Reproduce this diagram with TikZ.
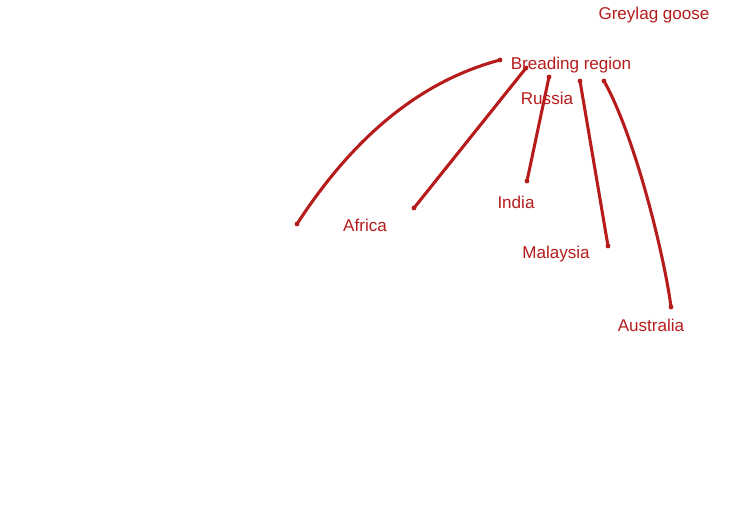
\documentclass[tikz,border=0pt]{standalone}
\usepackage{fontspec}
\setmainfont{Liberation Sans}
\definecolor{gred}{RGB}{183,28,28}
\begin{document}
\begin{tikzpicture}[x=0.75pt,y=-0.75pt,
  lbl/.style={text=gred,font=\fontsize{12.8}{15}\selectfont,inner sep=0pt,anchor=center},
  pt/.style={circle,fill=gred,inner sep=0pt,minimum size=3.6pt},
  link/.style={draw=gred,line width=2.3pt}]
\useasboundingbox[fill=white] (0,0) rectangle (738,521);
\node[lbl] (title) at (654,15) {Greylag goose};
\node[lbl] (breed) at (571,65) {Breading region};
\node[lbl] (russia) at (547,98) {Russia};
\node[lbl] (india) at (516,202) {India};
\node[lbl] (africa) at (365,225) {Africa};
\node[lbl] (malaysia) at (556,254) {Malaysia};
\node[lbl] (australia) at (651,325) {Australia};
% endpoints
\node[pt] (s1) at (500,60) {};
\node[pt] (e1) at (297,224) {};
\node[pt] (s2) at (526,68) {};
\node[pt] (e2) at (414,208) {};
\node[pt] (s3) at (549,77) {};
\node[pt] (e3) at (527,181) {};
\node[pt] (s4) at (580,81) {};
\node[pt] (e4) at (608,246) {};
\node[pt] (s5) at (604,81) {};
\node[pt] (e5) at (671,307) {};
\draw[link] (s1.center) .. controls (421,81) and (354,136) .. (e1.center);
\draw[link] (s2.center) -- (e2.center);
\draw[link] (s3.center) -- (e3.center);
\draw[link] (s4.center) -- (e4.center);
\draw[link] (s5.center) .. controls (636,138) and (665,260) .. (e5.center);
\end{tikzpicture}
\end{document}
